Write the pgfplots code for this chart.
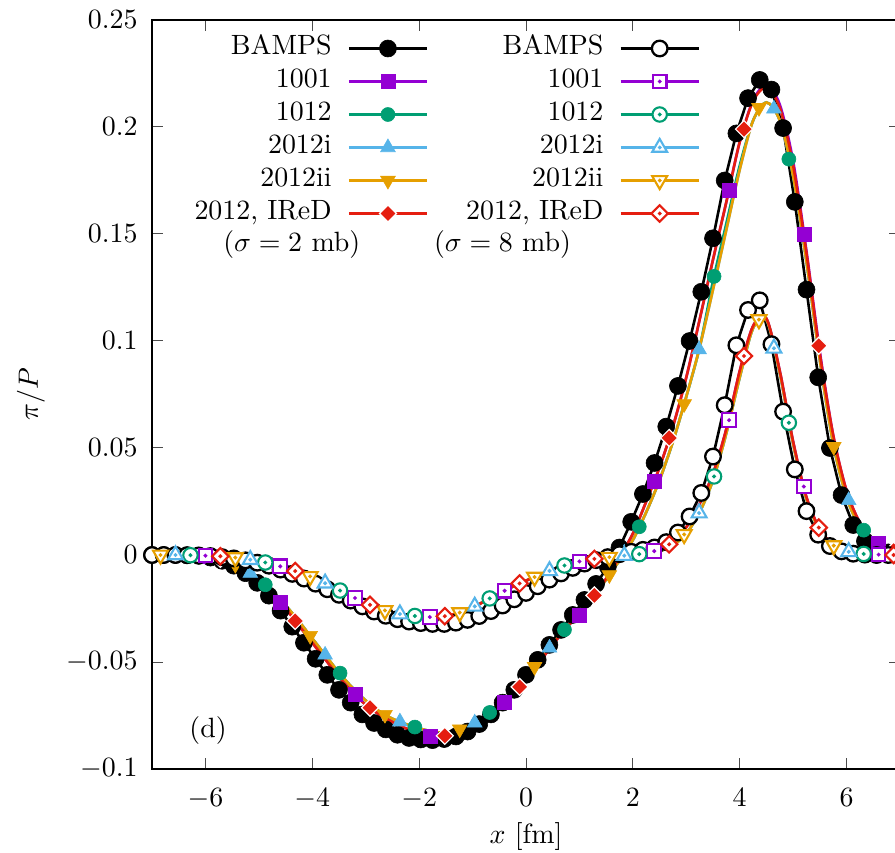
\documentclass[border=0pt]{standalone}
\usepackage{pgfplots}
\pgfplotsset{compat=1.18}
\usepackage{pgfplotstable}
\makeatletter
\fontencoding{TU}\fontfamily{lmr}\fontseries{m}\fontshape{n}\selectfont
\ifdefined\UnicodeFontFile
\DeclareFontShape{TU}{lmr}{m}{n}{<->\UnicodeFontFile{lmroman10-regular}{\UnicodeFontTeXLigatures}}{}
\fi
\DeclareFontShape{OT1}{cmr}{m}{n}{<->cmr10}{}
\DeclareFontShape{OML}{cmm}{m}{it}{<->cmmi10}{}
\DeclareFontShape{OMS}{cmsy}{m}{n}{<->cmsy10}{}
\makeatother

\definecolor{cpurple}{HTML}{9400D3}
\definecolor{cgreen}{HTML}{009E73}
\definecolor{cblue}{HTML}{56B4E9}
\definecolor{corange}{HTML}{E69F00}
\definecolor{cred}{HTML}{E51E10}

% custom marks
\pgfdeclareplotmark{ftri}{%
  \pgfpathmoveto{\pgfqpoint{0pt}{\pgfplotmarksize}}%
  \pgfpathlineto{\pgfqpoint{-0.866\pgfplotmarksize}{-0.5\pgfplotmarksize}}%
  \pgfpathlineto{\pgfqpoint{0.866\pgfplotmarksize}{-0.5\pgfplotmarksize}}%
  \pgfpathclose\pgfusepathqfillstroke}
\pgfdeclareplotmark{ftrirev}{%
  \pgfpathmoveto{\pgfqpoint{0pt}{-\pgfplotmarksize}}%
  \pgfpathlineto{\pgfqpoint{-0.866\pgfplotmarksize}{0.5\pgfplotmarksize}}%
  \pgfpathlineto{\pgfqpoint{0.866\pgfplotmarksize}{0.5\pgfplotmarksize}}%
  \pgfpathclose\pgfusepathqfillstroke}
\pgfdeclareplotmark{fdiamond}{%
  \pgfpathmoveto{\pgfqpoint{0pt}{\pgfplotmarksize}}%
  \pgfpathlineto{\pgfqpoint{\pgfplotmarksize}{0pt}}%
  \pgfpathlineto{\pgfqpoint{0pt}{-\pgfplotmarksize}}%
  \pgfpathlineto{\pgfqpoint{-\pgfplotmarksize}{0pt}}%
  \pgfpathclose\pgfusepathqfillstroke}
\pgfdeclareplotmark{dsquare}{%
  \pgfpathrectangle{\pgfqpoint{-\pgfplotmarksize}{-\pgfplotmarksize}}{\pgfqpoint{2\pgfplotmarksize}{2\pgfplotmarksize}}%
  \pgfusepathqfillstroke
  \pgfpathcircle{\pgfpointorigin}{0.7pt}\pgfusepathqstroke}
\pgfdeclareplotmark{dcircle}{%
  \pgfpathcircle{\pgfpointorigin}{\pgfplotmarksize}\pgfusepathqfillstroke
  \pgfpathcircle{\pgfpointorigin}{0.7pt}\pgfusepathqstroke}
\pgfdeclareplotmark{dtri}{%
  \pgfpathmoveto{\pgfqpoint{0pt}{\pgfplotmarksize}}%
  \pgfpathlineto{\pgfqpoint{-0.866\pgfplotmarksize}{-0.5\pgfplotmarksize}}%
  \pgfpathlineto{\pgfqpoint{0.866\pgfplotmarksize}{-0.5\pgfplotmarksize}}%
  \pgfpathclose\pgfusepathqfillstroke
  \pgfpathcircle{\pgfpointorigin}{0.7pt}\pgfusepathqstroke}
\pgfdeclareplotmark{dtrirev}{%
  \pgfpathmoveto{\pgfqpoint{0pt}{-\pgfplotmarksize}}%
  \pgfpathlineto{\pgfqpoint{-0.866\pgfplotmarksize}{0.5\pgfplotmarksize}}%
  \pgfpathlineto{\pgfqpoint{0.866\pgfplotmarksize}{0.5\pgfplotmarksize}}%
  \pgfpathclose\pgfusepathqfillstroke
  \pgfpathcircle{\pgfpointorigin}{0.7pt}\pgfusepathqstroke}
\pgfdeclareplotmark{ddiamond}{%
  \pgfpathmoveto{\pgfqpoint{0pt}{\pgfplotmarksize}}%
  \pgfpathlineto{\pgfqpoint{\pgfplotmarksize}{0pt}}%
  \pgfpathlineto{\pgfqpoint{0pt}{-\pgfplotmarksize}}%
  \pgfpathlineto{\pgfqpoint{-\pgfplotmarksize}{0pt}}%
  \pgfpathclose\pgfusepathqfillstroke
  \pgfpathcircle{\pgfpointorigin}{0.7pt}\pgfusepathqstroke}

\pgfplotsset{
  ln/.style={line width=2.6bp},
  % sigma = 2 mb (filled)
  m2bamps/.style={mark=*, mark size=8.5bp, mark options={solid, fill=black, draw=black, line width=0.6bp}},
  m2p/.style={mark=square*, mark size=7bp, mark options={solid, fill=cpurple, draw=cpurple, line width=0.6bp}},
  m2g/.style={mark=*, mark size=7bp, mark options={solid, fill=cgreen, draw=cgreen, line width=0.6bp}},
  m2b/.style={mark=ftri, mark size=8.5bp, mark options={solid, fill=cblue, draw=cblue, line width=0.6bp}},
  m2o/.style={mark=ftrirev, mark size=8.5bp, mark options={solid, fill=corange, draw=corange, line width=0.6bp}},
  m2r/.style={mark=fdiamond, mark size=8.5bp, mark options={solid, fill=cred, draw=white, line width=1.2bp}},
  % sigma = 8 mb (open)
  m8bamps/.style={mark=*, mark size=7.8bp, mark options={solid, fill=white, draw=black, line width=2.3bp}},
  m8p/.style={mark=dsquare, mark size=6.8bp, mark options={solid, fill=white, draw=cpurple, line width=2.1bp}},
  m8g/.style={mark=dcircle, mark size=7.2bp, mark options={solid, fill=white, draw=cgreen, line width=2.1bp}},
  m8b/.style={mark=dtri, mark size=8.6bp, mark options={solid, fill=white, draw=cblue, line width=2.1bp}},
  m8o/.style={mark=dtrirev, mark size=8.6bp, mark options={solid, fill=white, draw=corange, line width=2.1bp}},
  m8r/.style={mark=ddiamond, mark size=8.2bp, mark options={solid, fill=white, draw=cred, line width=2.1bp}},
}

% model curves: x, then sigma=2mb (1001,1012,2012i,2012ii,IReD), then sigma=8mb
\pgfplotstableread{
x p2 g2 b2 o2 r2 p8 g8 b8 o8 r8
-7 0 0 0 0 0 0 0 0 0 0
-6.75 0 0 0 0 0 0 0 0 0 0
-6.5 0 0 0 0 0 0 0 0 0 0
-6.25 -0.0002 -0.0002 -0.0002 -0.0002 -0.0002 -0.0001 -0.0001 -0.0001 -0.0001 -0.0001
-6 -0.0005 -0.0005 -0.0005 -0.0005 -0.0005 -0.0003 -0.0003 -0.0003 -0.0003 -0.0003
-5.75 -0.0015 -0.0014 -0.0014 -0.0014 -0.0015 -0.0006 -0.0006 -0.0006 -0.0006 -0.0006
-5.5 -0.004 -0.0037 -0.0037 -0.0037 -0.004 -0.001 -0.001 -0.001 -0.001 -0.001
-5.25 -0.0075 -0.007 -0.007 -0.007 -0.0075 -0.0018 -0.0018 -0.0018 -0.0018 -0.0018
-5 -0.012 -0.011 -0.011 -0.011 -0.012 -0.0028 -0.0028 -0.0028 -0.0028 -0.0028
-4.75 -0.018 -0.017 -0.017 -0.017 -0.018 -0.0042 -0.0042 -0.0042 -0.0042 -0.0042
-4.5 -0.025 -0.0235 -0.0235 -0.0235 -0.025 -0.006 -0.006 -0.006 -0.006 -0.006
-4.25 -0.033 -0.031 -0.031 -0.031 -0.033 -0.008 -0.008 -0.008 -0.008 -0.008
-4 -0.041 -0.039 -0.039 -0.039 -0.041 -0.0105 -0.0105 -0.0105 -0.0105 -0.0105
-3.75 -0.049 -0.047 -0.047 -0.047 -0.049 -0.0133 -0.0133 -0.0133 -0.0133 -0.0133
-3.5 -0.057 -0.055 -0.055 -0.055 -0.057 -0.0163 -0.0163 -0.0163 -0.0163 -0.0163
-3.25 -0.064 -0.062 -0.062 -0.062 -0.064 -0.0195 -0.0195 -0.0195 -0.0195 -0.0195
-3 -0.070 -0.068 -0.068 -0.068 -0.070 -0.0225 -0.0225 -0.0225 -0.0225 -0.0225
-2.75 -0.0745 -0.073 -0.073 -0.073 -0.0745 -0.025 -0.025 -0.025 -0.025 -0.025
-2.5 -0.078 -0.0765 -0.0765 -0.0765 -0.078 -0.027 -0.027 -0.027 -0.027 -0.027
-2.25 -0.081 -0.079 -0.079 -0.079 -0.081 -0.028 -0.028 -0.028 -0.028 -0.028
-2 -0.083 -0.081 -0.081 -0.081 -0.083 -0.0287 -0.0287 -0.0287 -0.0287 -0.0287
-1.75 -0.085 -0.0825 -0.0825 -0.0825 -0.0845 -0.029 -0.029 -0.029 -0.029 -0.029
-1.5 -0.085 -0.083 -0.083 -0.083 -0.0845 -0.0285 -0.0285 -0.0285 -0.0285 -0.0285
-1.25 -0.083 -0.0815 -0.0815 -0.0815 -0.083 -0.027 -0.027 -0.027 -0.027 -0.027
-1 -0.080 -0.079 -0.079 -0.079 -0.080 -0.0245 -0.0245 -0.0245 -0.0245 -0.0245
-0.75 -0.076 -0.075 -0.075 -0.075 -0.076 -0.0213 -0.0213 -0.0213 -0.0213 -0.0213
-0.5 -0.071 -0.070 -0.070 -0.070 -0.071 -0.018 -0.018 -0.018 -0.018 -0.018
-0.25 -0.065 -0.064 -0.064 -0.064 -0.065 -0.0148 -0.0148 -0.0148 -0.0148 -0.0148
0 -0.058 -0.057 -0.057 -0.057 -0.058 -0.012 -0.012 -0.012 -0.012 -0.012
0.25 -0.050 -0.0495 -0.0495 -0.0495 -0.050 -0.0093 -0.0093 -0.0093 -0.0093 -0.0093
0.5 -0.042 -0.0415 -0.0415 -0.0415 -0.042 -0.0068 -0.0068 -0.0068 -0.0068 -0.0068
0.75 -0.034 -0.034 -0.034 -0.034 -0.034 -0.0047 -0.0047 -0.0047 -0.0047 -0.0047
1 -0.028 -0.0275 -0.0275 -0.0275 -0.028 -0.003 -0.003 -0.003 -0.003 -0.003
1.25 -0.020 -0.020 -0.020 -0.020 -0.020 -0.0019 -0.0019 -0.0019 -0.0019 -0.0019
1.5 -0.011 -0.0115 -0.0115 -0.0115 -0.011 -0.0011 -0.0011 -0.0011 -0.0011 -0.0011
1.75 -0.001 -0.0025 -0.0025 -0.0025 -0.001 -0.0005 -0.0005 -0.0005 -0.0005 -0.0005
2 0.010 0.007 0.007 0.007 0.010 0.0001 0.0001 0.0001 0.0001 0.0001
2.25 0.025 0.020 0.020 0.020 0.025 0.0008 0.0008 0.0008 0.0008 0.0008
2.5 0.041 0.035 0.035 0.035 0.041 0.0025 0.0018 0.0018 0.0018 0.0025
2.75 0.060 0.053 0.053 0.053 0.060 0.006 0.0045 0.0045 0.0045 0.006
3 0.083 0.074 0.074 0.074 0.083 0.013 0.010 0.010 0.010 0.013
3.25 0.110 0.097 0.097 0.097 0.110 0.024 0.020 0.020 0.020 0.024
3.5 0.138 0.128 0.124 0.124 0.138 0.038 0.035 0.035 0.035 0.038
3.75 0.165 0.155 0.152 0.152 0.165 0.059 0.057 0.057 0.057 0.059
4 0.193 0.182 0.180 0.180 0.193 0.086 0.083 0.083 0.083 0.086
4.25 0.2125 0.203 0.203 0.203 0.212 0.107 0.106 0.106 0.106 0.107
4.5 0.2195 0.2115 0.2115 0.2115 0.2185 0.1105 0.110 0.110 0.110 0.1105
4.75 0.2105 0.203 0.203 0.203 0.209 0.086 0.085 0.085 0.085 0.086
5 0.184 0.177 0.177 0.177 0.182 0.053 0.052 0.052 0.052 0.053
5.25 0.142 0.137 0.137 0.137 0.141 0.027 0.026 0.026 0.026 0.027
5.5 0.095 0.091 0.091 0.091 0.094 0.012 0.0115 0.0115 0.0115 0.012
5.75 0.056 0.052 0.052 0.052 0.056 0.0048 0.0045 0.0045 0.0045 0.0048
6 0.030 0.027 0.027 0.027 0.030 0.0018 0.0016 0.0016 0.0016 0.0018
6.25 0.015 0.013 0.013 0.013 0.015 0.0006 0.0006 0.0006 0.0006 0.0006
6.5 0.007 0.006 0.006 0.006 0.007 0.0002 0.0002 0.0002 0.0002 0.0002
6.75 0.003 0.0025 0.0025 0.0025 0.003 0.0001 0.0001 0.0001 0.0001 0.0001
7 0.001 0.001 0.001 0.001 0.001 0 0 0 0 0
}\models

% BAMPS: y2 (sigma = 2 mb), y8 (sigma = 8 mb)
\pgfplotstableread{
x y2 y8
-7 0 0
-6.781 0 0
-6.562 0 0
-6.344 -0.0001 -0.0001
-6.125 -0.0004 -0.0002
-5.906 -0.0012 -0.0005
-5.688 -0.0027 -0.001
-5.469 -0.005 -0.0016
-5.25 -0.0085 -0.0025
-5.031 -0.013 -0.0036
-4.812 -0.019 -0.005
-4.594 -0.026 -0.0068
-4.375 -0.0335 -0.0088
-4.156 -0.041 -0.011
-3.938 -0.0485 -0.0134
-3.719 -0.056 -0.016
-3.5 -0.063 -0.0186
-3.281 -0.069 -0.0213
-3.062 -0.0745 -0.024
-2.844 -0.0785 -0.0264
-2.625 -0.0815 -0.0284
-2.406 -0.084 -0.030
-2.188 -0.0855 -0.0311
-1.969 -0.0862 -0.0318
-1.75 -0.0865 -0.0322
-1.531 -0.086 -0.0322
-1.312 -0.0848 -0.0316
-1.094 -0.0825 -0.0303
-0.875 -0.079 -0.0285
-0.656 -0.0745 -0.0262
-0.438 -0.069 -0.0236
-0.219 -0.063 -0.0207
0 -0.056 -0.0177
0.219 -0.049 -0.0146
0.438 -0.042 -0.0115
0.656 -0.035 -0.0086
0.875 -0.028 -0.006
1.094 -0.021 -0.004
1.312 -0.0135 -0.0024
1.531 -0.0055 -0.001
1.75 0.0035 0.0004
1.969 0.0155 0.0015
2.188 0.0285 0.0024
2.406 0.043 0.0035
2.625 0.060 0.006
2.844 0.079 0.0105
3.062 0.100 0.018
3.281 0.123 0.029
3.5 0.148 0.046
3.719 0.175 0.070
3.938 0.197 0.098
4.156 0.2135 0.1145
4.375 0.222 0.119
4.594 0.2175 0.0985
4.812 0.1995 0.067
5.031 0.165 0.040
5.25 0.124 0.0205
5.469 0.083 0.0095
5.688 0.050 0.0042
5.906 0.028 0.0017
6.125 0.014 0.0006
6.344 0.0065 0.0002
6.562 0.003 0
6.781 0.0012 0
7 0.0005 0
}\bamps

\begin{document}
\begin{tikzpicture}[font=\fontsize{28}{34}\selectfont]
\path[use as bounding box] (-152bp,-84bp) rectangle (743bp,769bp);
\clip (-152bp,-84bp) rectangle (743bp,769bp);
\begin{axis}[
  at={(0,0)}, anchor=south west,
  scale only axis, width=748bp, height=749bp,
  xmin=-7, xmax=7, ymin=-0.1, ymax=0.25,
  xtick={-6,-4,-2,0,2,4,6},
  ytick={-0.1,-0.05,0,0.05,0.1,0.15,0.2,0.25},
  scaled y ticks=false,
  yticklabel style={/pgf/number format/fixed, /pgf/number format/precision=2, xshift=-11bp},
  xticklabel style={yshift=-16bp},
  tick align=inside,
  major tick length=11bp,
  every tick/.style={black!70, line width=1bp},
  axis line style={line width=1.4bp},
  xlabel={$x$ [fm]}, ylabel={$\pi/P$},
  xlabel style={at={(axis description cs:0.5,-0.090)}, anchor=center},
  ylabel style={at={(axis description cs:-0.1618,0.5)}, anchor=center},
  legend columns=2,
  legend plot pos=right,
  legend cell align=right,
  legend image code/.code={\draw[mark repeat=2,mark phase=2,#1] plot coordinates {(0bp,0bp) (39bp,0bp) (78bp,0bp)};},
  legend style={draw=none, fill=none, at={(axis description cs:0.7326,0.97864)}, anchor=north east,
    inner sep=0pt, outer sep=0pt, font=\fontsize{28}{34}\selectfont,
    nodes={inner sep=0pt, text height=19bp, text depth=6bp},
    row sep=8bp,
    /tikz/every odd column/.append style={column sep=16bp},
    /tikz/every even column/.append style={column sep=38bp}},
]
% ---------------- sigma = 2 mb ----------------
\addplot[forget plot, black, ln, m2bamps] table[x=x, y=y2]{\bamps};
\addplot[forget plot, cpurple, ln, no markers, smooth] table[x=x, y=p2]{\models};
\addplot[forget plot, cpurple, only marks, m2p] coordinates {(-6.0,-0.0005) (-4.6,-0.0222) (-3.2,-0.0652) (-1.8,-0.0849) (-0.4,-0.0686) (1.0,-0.028) (2.4,0.0346) (3.8,0.1706) (5.2,0.150) (6.6,0.0054)};
\addplot[forget plot, cgreen, ln, no markers, smooth] table[x=x, y=g2]{\models};
\addplot[forget plot, cgreen, only marks, m2g] coordinates {(-6.28,-0.0002) (-4.88,-0.0139) (-3.48,-0.0552) (-2.08,-0.0804) (-0.68,-0.0736) (0.72,-0.0349) (2.12,0.0132) (3.52,0.1302) (4.92,0.185) (6.32,0.0116)};
\addplot[forget plot, cblue, ln, no markers, smooth] table[x=x, y=b2]{\models};
\addplot[forget plot, cblue, only marks, m2b] coordinates {(-6.56,0) (-5.16,-0.0085) (-3.76,-0.0467) (-2.36,-0.0779) (-0.96,-0.0784) (0.44,-0.0434) (1.84,0.001) (3.24,0.096) (4.64,0.2085) (6.04,0.0255)};
\addplot[forget plot, corange, ln, no markers, smooth] table[x=x, y=o2]{\models};
\addplot[forget plot, corange, only marks, m2o] coordinates {(-6.84,0) (-5.44,-0.0045) (-4.04,-0.0377) (-2.64,-0.0746) (-1.24,-0.0814) (0.16,-0.0522) (1.56,-0.0093) (2.96,0.0706) (4.36,0.209) (5.76,0.0506)};
\addplot[forget plot, cred, ln, no markers, smooth] table[x=x, y=r2]{\models};
\addplot[forget plot, cred, only marks, m2r] coordinates {(-5.72,-0.0018) (-4.32,-0.0308) (-2.92,-0.0714) (-1.52,-0.0845) (-0.12,-0.0616) (1.28,-0.0189) (2.68,0.0547) (4.08,0.199) (5.48,0.0978) (6.88,0.002)};
% ---------------- sigma = 8 mb ----------------
\addplot[forget plot, black, ln, m8bamps] table[x=x, y=y8]{\bamps};
\addplot[forget plot, cpurple, ln, no markers, smooth] table[x=x, y=p8]{\models};
\addplot[forget plot, cpurple, only marks, m8p] coordinates {(-6.0,-0.0003) (-4.6,-0.0053) (-3.2,-0.0201) (-1.8,-0.029) (-0.4,-0.0167) (1.0,-0.003) (2.4,0.0018) (3.8,0.063) (5.2,0.032) (6.6,0.0002)};
\addplot[forget plot, cgreen, ln, no markers, smooth] table[x=x, y=g8]{\models};
\addplot[forget plot, cgreen, only marks, m8g] coordinates {(-6.28,-0.0001) (-4.88,-0.0035) (-3.48,-0.0166) (-2.08,-0.0285) (-0.68,-0.0203) (0.72,-0.0049) (2.12,0.0004) (3.52,0.0367) (4.92,0.0618) (6.32,0.0005)};
\addplot[forget plot, cblue, ln, no markers, smooth] table[x=x, y=b8]{\models};
\addplot[forget plot, cblue, only marks, m8b] coordinates {(-6.56,0) (-5.16,-0.0022) (-3.76,-0.0132) (-2.36,-0.0276) (-0.96,-0.024) (0.44,-0.0074) (1.84,-0.0003) (3.24,0.0196) (4.64,0.0966) (6.04,0.0015)};
\addplot[forget plot, corange, ln, no markers, smooth] table[x=x, y=o8]{\models};
\addplot[forget plot, corange, only marks, m8o] coordinates {(-6.84,0) (-5.44,-0.0012) (-4.04,-0.010) (-2.64,-0.0259) (-1.24,-0.0269) (0.16,-0.0103) (1.56,-0.001) (2.96,0.0096) (4.36,0.110) (5.76,0.0044)};
\addplot[forget plot, cred, ln, no markers, smooth] table[x=x, y=r8]{\models};
\addplot[forget plot, cred, only marks, m8r] coordinates {(-5.72,-0.0006) (-4.32,-0.0075) (-2.92,-0.0233) (-1.52,-0.0286) (-0.12,-0.0133) (1.28,-0.0018) (2.68,0.005) (4.08,0.093) (5.48,0.0128) (6.88,0)};
% ---------------- legend ----------------
\addlegendimage{black, ln, m2bamps}\addlegendentry{BAMPS}
\addlegendimage{black, ln, m8bamps}\addlegendentry{BAMPS}
\addlegendimage{cpurple, ln, m2p}\addlegendentry{1001}
\addlegendimage{cpurple, ln, m8p}\addlegendentry{1001}
\addlegendimage{cgreen, ln, m2g}\addlegendentry{1012}
\addlegendimage{cgreen, ln, m8g}\addlegendentry{1012}
\addlegendimage{cblue, ln, m2b}\addlegendentry{2012i}
\addlegendimage{cblue, ln, m8b}\addlegendentry{2012i}
\addlegendimage{corange, ln, m2o}\addlegendentry{2012ii}
\addlegendimage{corange, ln, m8o}\addlegendentry{2012ii}
\addlegendimage{cred, ln, m2r}\addlegendentry{2012, IReD}
\addlegendimage{cred, ln, m8r}\addlegendentry{2012, IReD}
\node at (axis cs:-4.383,0.1449) {($\sigma = 2$ mb)};
\node at (axis cs:-0.439,0.1449) {($\sigma = 8$ mb)};
\node at (axis cs:-5.95,-0.0822) {(d)};
\end{axis}
\end{tikzpicture}
\end{document}
